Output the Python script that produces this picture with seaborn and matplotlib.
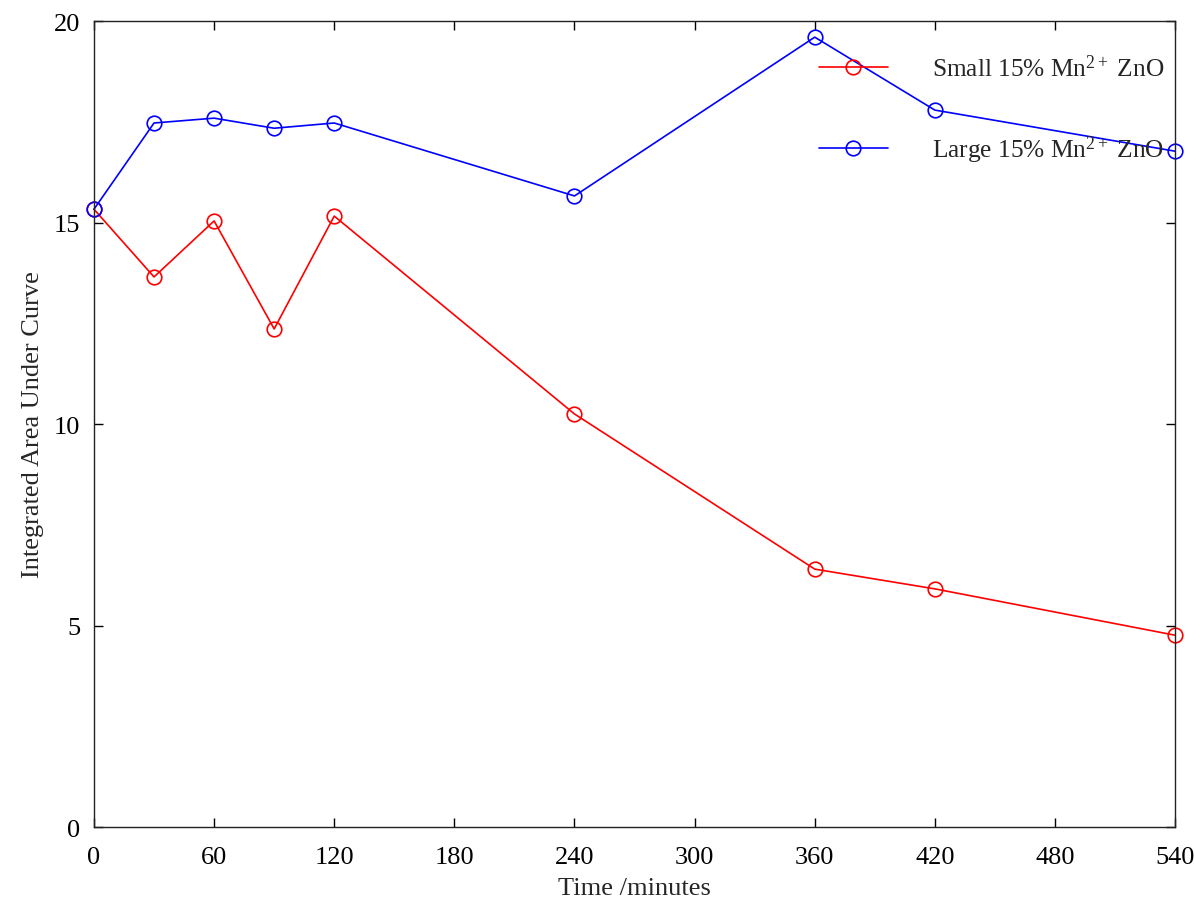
import matplotlib
matplotlib.use("Agg")
import matplotlib.pyplot as plt
from matplotlib.lines import Line2D
import seaborn as sns
import pandas as pd

# Integrated area under curve over time for two ZnO particle sizes
time_min = [0, 30, 60, 90, 120, 240, 360, 420, 540]
small_area = [15.33, 13.65, 15.04, 12.36, 15.16, 10.25, 6.40, 5.91, 4.76]
large_area = [15.33, 17.47, 17.59, 17.34, 17.47, 15.66, 19.60, 17.79, 16.77]
series_labels = [r"Small 15% Mn$^{2+}$ ZnO", r"Large 15% Mn$^{2+}$ ZnO"]
x_ticks = [0, 60, 120, 180, 240, 300, 360, 420, 480, 540]
y_ticks = [0, 5, 10, 15, 20]

df = pd.concat([
    pd.DataFrame({"time": time_min, "area": small_area, "series": series_labels[0]}),
    pd.DataFrame({"time": time_min, "area": large_area, "series": series_labels[1]}),
])

sns.set_theme(style="ticks")
plt.rcParams["font.family"] = ["Liberation Serif", "DejaVu Serif"]
plt.rcParams["mathtext.fontset"] = "custom"
plt.rcParams["mathtext.rm"] = "Liberation Serif"
plt.rcParams["mathtext.it"] = "Liberation Serif:italic"

fig = plt.figure(figsize=(11.94, 9.03), dpi=100)
ax = fig.add_axes([0.0787, 0.083, 0.9055, 0.8926])

palette = {series_labels[0]: "#ff0000", series_labels[1]: "#0000ff"}
sns.lineplot(data=df, x="time", y="area", hue="series", palette=palette,
             marker="o", markersize=10.5, markerfacecolor="none",
             markeredgewidth=1.2, linewidth=1.2, ax=ax, legend=False,
             clip_on=False)
for line in ax.lines:
    line.set_markeredgecolor(line.get_color())

ax.set_xlim(0, 540)
ax.set_ylim(0, 20)
ax.set_xticks(x_ticks)
ax.set_yticks(y_ticks)
ax.tick_params(direction="in", top=True, right=True, length=6.5, width=1,
               labelsize=19, colors="black")
ax.tick_params(axis="x", pad=14)
ax.tick_params(axis="y", pad=10)
for s in ax.spines.values():
    s.set_linewidth(1)
    s.set_color("#222222")

ax.set_xlabel("Time /minutes", fontsize=19, labelpad=6)
ax.set_ylabel("Integrated Area Under Curve", fontsize=19, labelpad=7)

handles = [Line2D([], [], color=palette[l], marker="o", markersize=10.5,
                  markerfacecolor="none", markeredgewidth=1.2, linewidth=1.2)
           for l in series_labels]
ax.legend(handles, series_labels, loc="upper right", frameon=False,
          fontsize=18.3, handlelength=2.7, handletextpad=1.75,
          labelspacing=2.05, borderpad=0, borderaxespad=0,
          bbox_to_anchor=(0.99, 0.958))

fig.savefig("out.png", dpi=100)
